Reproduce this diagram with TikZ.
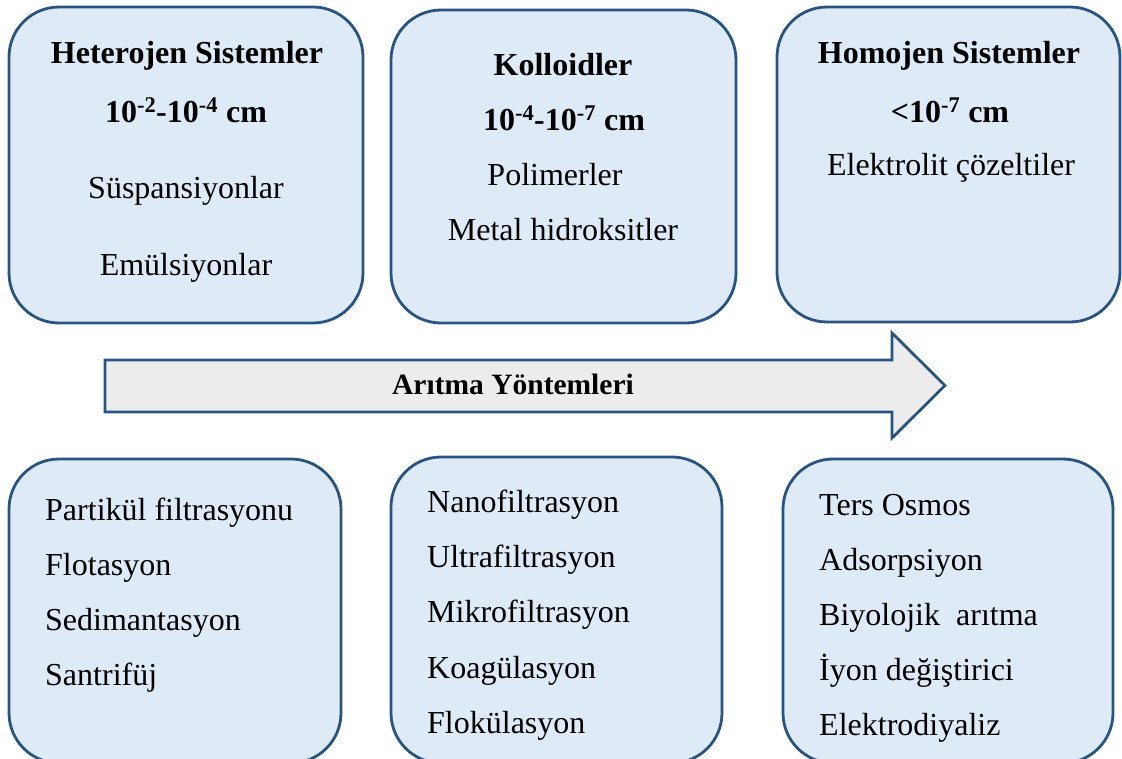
\documentclass[tikz,border=0pt]{standalone}
\usepackage{fontspec}
\setmainfont{Liberation Serif}
\definecolor{boxfill}{RGB}{222,234,246}
\definecolor{boxline}{RGB}{41,84,130}
\definecolor{arrowfill}{RGB}{236,236,236}
\begin{document}
\begin{tikzpicture}[x=1pt,y=-1pt,
  panel/.style={draw=boxline, fill=boxfill, line width=2.8pt, rounded corners=50pt, inner sep=0pt, outer sep=0pt},
  head/.style={anchor=base, inner sep=0pt, font=\fontsize{32}{38}\selectfont\bfseries},
  body/.style={anchor=base, inner sep=0pt, font=\fontsize{32}{38}\selectfont},
  item/.style={anchor=base west, inner sep=0pt, font=\fontsize{32}{38}\selectfont},
  flow/.style={draw=boxline, fill=arrowfill, line width=2.8pt, line join=miter},
  flowtext/.style={anchor=base, inner sep=0pt, font=\fontsize{29.5}{35}\selectfont\bfseries},
]
\useasboundingbox (0,0) rectangle (1122,758);
\clip (0,0) rectangle (1122,758);

% size classes
\node[panel, minimum width=354pt, minimum height=316pt] (het) at (186,165) {};
\node[panel, minimum width=345pt, minimum height=313pt] (kol) at (563.5,166.5) {};
\node[panel, minimum width=343pt, minimum height=315pt] (hom) at (948.5,164.5) {};

\node[head] (hetA) at (187,63) {Heterojen Sistemler};
\node[head] (hetB) at (186,122) {10\textsuperscript{-2}-10\textsuperscript{-4} cm};
\node[body] (hetC) at (186,198) {Süspansiyonlar};
\node[body] (hetD) at (186,275) {Emülsiyonlar};

\node[head] (kolA) at (563,75) {Kolloidler};
\node[head] (kolB) at (564,130) {10\textsuperscript{-4}-10\textsuperscript{-7} cm};
\node[body] (kolC) at (555,185) {Polimerler};
\node[body] (kolD) at (563,240) {Metal hidroksitler};

\node[head] (homA) at (949,63) {Homojen Sistemler};
\node[head] (homB) at (950,122) {<10\textsuperscript{-7} cm};
\node[body] (homC) at (951,175) {Elektrolit çözeltiler};

% treatment direction
\draw[flow] (105,360) -- (892,360) -- (892,333) -- (945,385.5) -- (892,438)
  -- (892,412) -- (105,412) -- cycle;
\node[flowtext] (yontem) at (513,394) {Arıtma Yöntemleri};

% treatment methods
\node[panel, minimum width=332pt, minimum height=304pt] (m1) at (175,611) {};
\node[panel, minimum width=331pt, minimum height=306pt] (m2) at (556.5,610) {};
\node[panel, minimum width=330pt, minimum height=304pt] (m3) at (948,611) {};

\node[item] (m1a) at (45,520) {Partikül filtrasyonu};
\node[item] (m1b) at (45,575) {Flotasyon};
\node[item] (m1c) at (45,630) {Sedimantasyon};
\node[item] (m1d) at (45,685) {Santrifüj};

\node[item] (m2a) at (427,512) {Nanofiltrasyon};
\node[item] (m2b) at (427,567) {Ultrafiltrasyon};
\node[item] (m2c) at (427,622) {Mikrofiltrasyon};
\node[item] (m2d) at (427,678) {Koagülasyon};
\node[item] (m2e) at (427,733) {Flokülasyon};

\node[item] (m3a) at (819,515) {Ters Osmos};
\node[item] (m3b) at (819,570) {Adsorpsiyon};
\node[item] (m3c) at (819,625) {Biyolojik\ \ arıtma};
\node[item] (m3d) at (819,680) {İyon değiştirici};
\node[item] (m3e) at (819,735) {Elektrodiyaliz};
\end{tikzpicture}
\end{document}
